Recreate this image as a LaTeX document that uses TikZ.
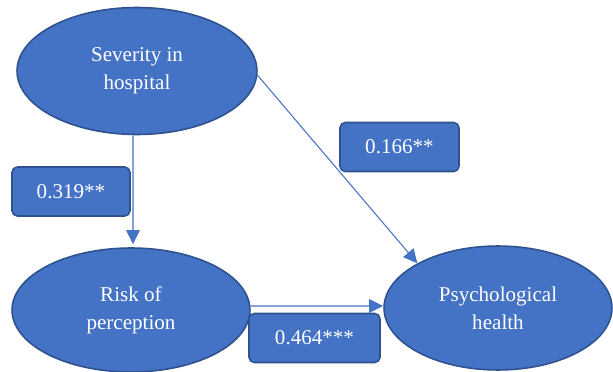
\documentclass[tikz,border=0pt]{standalone}
\usepackage{fontspec}
\setmainfont{Liberation Serif}
\usepackage{tikz}
\usetikzlibrary{shapes.geometric,arrows.meta,positioning}
\usepackage{xcolor}
\definecolor{nodeblue}{HTML}{4472C4}
\definecolor{edgeblue}{HTML}{2F528F}

\begin{document}
\begin{tikzpicture}[
    x=0.02cm, y=-0.02cm,
    var/.style={ellipse, draw=edgeblue, line width=0.9pt, fill=nodeblue,
                text=white, align=center, inner sep=0pt,
                font=\fontsize{12}{16}\selectfont},
    coef/.style={draw=edgeblue, line width=0.9pt, fill=nodeblue, rounded corners=3pt,
                 text=white, align=center, font=\fontsize{12}{16}\selectfont,
                 minimum height=0.98cm},
    arr/.style={-{Triangle[length=0.28cm, width=0.27cm]}, line width=0.6pt, nodeblue}
]
    \useasboundingbox (0,0) rectangle (613,372);

    \node[var, minimum width=4.8cm, minimum height=2.54cm] (sev) at (137,71) {Severity in\\hospital};
    \node[var, minimum width=4.76cm, minimum height=2.48cm] (risk) at (131,310) {Risk of\\perception};
    \node[var, minimum width=4.56cm, minimum height=2.48cm] (psych) at (498,308) {Psychological\\health};

    \node[coef, minimum width=2.36cm] (b1) at (71,191.5) {0.319**};
    \node[coef, minimum width=2.38cm] (b2) at (399.5,147) {0.166**};
    \node[coef, minimum width=2.62cm] (b3) at (314.5,338) {0.464***};

    % paths
    \draw[arr] ([xshift=-0.08cm]sev.south) -- ([xshift=0.04cm, yshift=0.06cm]risk.north);
    \draw[arr] (sev.-2) -- (psych.151);
    \draw[arr] ([yshift=0.08cm]risk.east) -- ([yshift=0.04cm]psych.west);
\end{tikzpicture}
\end{document}
